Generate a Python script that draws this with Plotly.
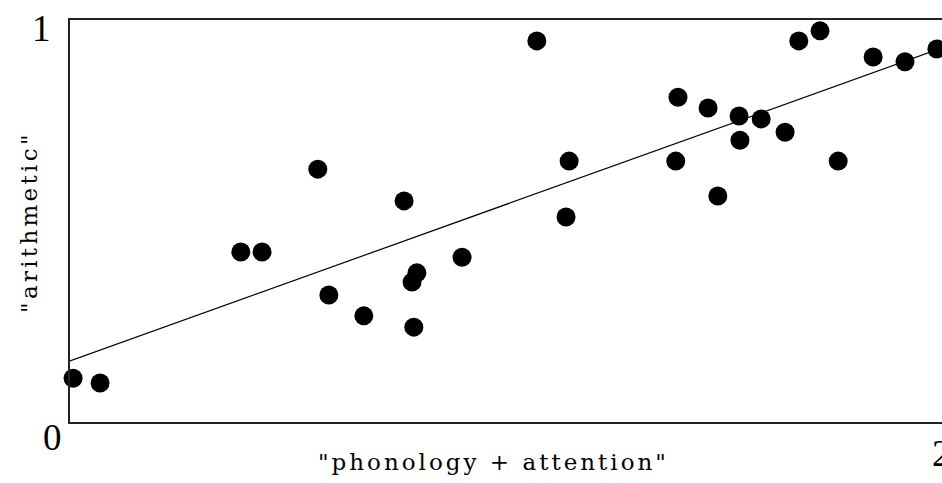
import plotly.graph_objects as go

# data
phon_att = [0.007, 0.068, 0.386, 0.434, 0.560, 0.585, 0.664, 0.755, 0.773, 0.784,
            0.777, 0.886, 1.055, 1.121, 1.128, 1.369, 1.374, 1.442, 1.464, 1.512,
            1.514, 1.562, 1.616, 1.647, 1.695, 1.736, 1.815, 1.887, 1.959]
arith = [0.109, 0.097, 0.423, 0.423, 0.629, 0.316, 0.264, 0.550, 0.348, 0.371,
         0.236, 0.410, 0.948, 0.510, 0.649, 0.649, 0.808, 0.781, 0.562, 0.761,
         0.701, 0.754, 0.721, 0.948, 0.973, 0.649, 0.908, 0.896, 0.928]
fit_intercept = 0.152
fit_slope = 0.395
fit_x = [0.0, 2.0]
fit_y = [fit_intercept + fit_slope * v for v in fit_x]

x_title = '"phonology + attention"'
y_title = '"arithmetic"'
tick_labels = {"y1": "1", "origin": "0", "x2": "2"}

W, H = 942, 483
L, R, T, B = 70, 0, 20, 61
pw = W - L - R
ph = H - T - B
x_max = pw / 442.5  # x=2 sits just beyond the right edge

def px(xp):
    return (xp - L) / pw

def py(yp):
    return (H - B - yp) / ph

fig = go.Figure()
fig.add_trace(go.Scatter(x=fit_x, y=fit_y, mode="lines",
                         line=dict(color="black", width=1.2),
                         hoverinfo="skip", cliponaxis=True))
fig.add_trace(go.Scatter(x=phon_att, y=arith, mode="markers",
                         marker=dict(color="black", size=19, line=dict(width=0)),
                         cliponaxis=False))

axis_col = "#222222"
fig.update_layout(
    width=W, height=H,
    margin=dict(l=L, r=R, t=T, b=B, pad=0),
    plot_bgcolor="white", paper_bgcolor="white",
    showlegend=False,
    xaxis=dict(range=[0, x_max], autorange=False, showgrid=False, zeroline=False,
               showticklabels=False, ticks="", showline=True, linecolor=axis_col,
               linewidth=2, mirror=True),
    yaxis=dict(range=[0, 1], autorange=False, showgrid=False, zeroline=False,
               showticklabels=False, ticks="", showline=True, linecolor=axis_col,
               linewidth=2, mirror=False),
)

title_font = dict(family="DejaVu Serif", size=23, color="black")
digit_font = dict(family="Liberation Serif", size=37, color="black")

fig.add_annotation(xref="paper", yref="paper", x=px(493), y=py(462),
                   xanchor="center", yanchor="middle", showarrow=False,
                   text='<span style="letter-spacing:3px">' + x_title + '</span>',
                   font=title_font)
fig.add_annotation(xref="paper", yref="paper", x=px(29), y=py(222),
                   xanchor="center", yanchor="middle", showarrow=False, textangle=-90,
                   text='<span style="letter-spacing:3.3px">' + y_title + '</span>',
                   font=title_font)
fig.add_annotation(xref="paper", yref="paper", x=px(41), y=py(29),
                   xanchor="center", yanchor="middle", showarrow=False,
                   text=tick_labels["y1"], font=digit_font)
fig.add_annotation(xref="paper", yref="paper", x=px(52), y=py(437),
                   xanchor="center", yanchor="middle", showarrow=False,
                   text=tick_labels["origin"], font=digit_font)
fig.add_annotation(xref="paper", yref="paper", x=px(930), y=py(453),
                   xanchor="left", yanchor="middle", showarrow=False,
                   text=tick_labels["x2"], font=digit_font)

fig.write_html("out.html",
               config={"displayModeBar": False},
               post_script="document.body.style.margin='0';"
                           "document.body.style.overflow='hidden';")
